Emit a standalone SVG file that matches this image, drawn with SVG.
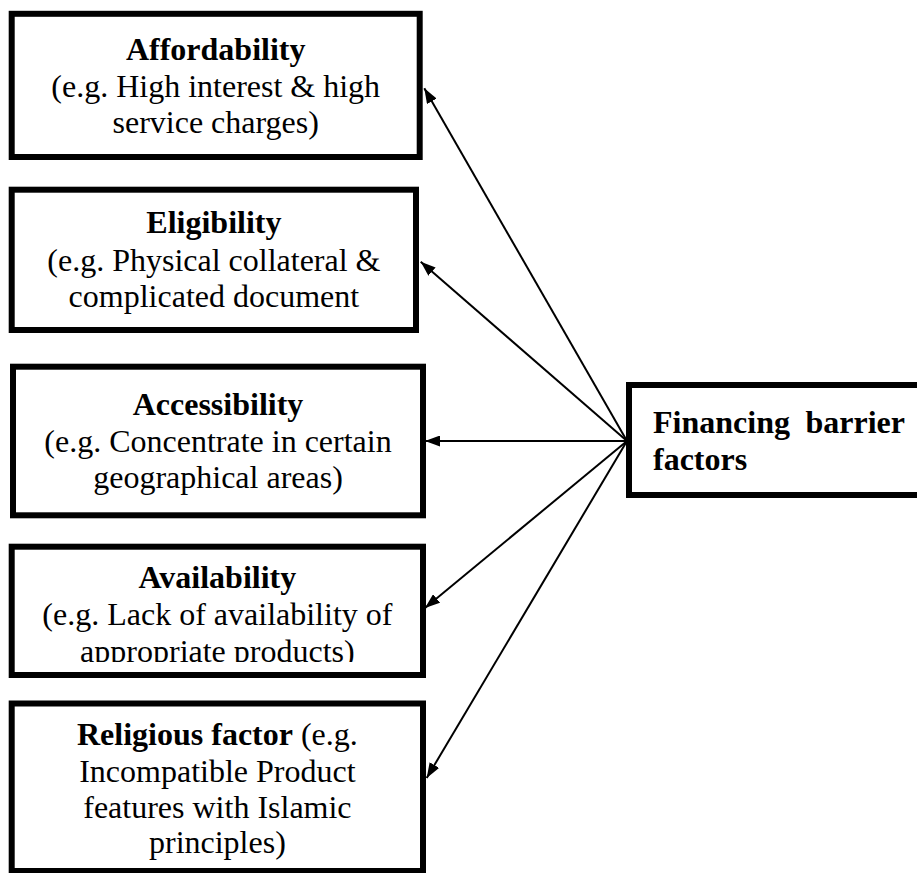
<svg xmlns="http://www.w3.org/2000/svg" width="917" height="873" viewBox="0 0 917 873">
<style>
.box{fill:#fff;stroke:#000;stroke-width:6}
.t{font-family:"Liberation Serif","Times New Roman",serif;font-size:32px;fill:#000;text-anchor:middle}
.b{font-weight:bold}
.f{font-family:"Liberation Serif","Times New Roman",serif;font-size:32px;font-weight:bold;fill:#000}
.c{stroke:#000;stroke-width:2;fill:none;marker-end:url(#ah)}
</style>
<defs>
<marker id="ah" viewBox="0 0 15 11" refX="15" refY="5.5" markerWidth="15" markerHeight="11" markerUnits="userSpaceOnUse" orient="auto">
<path d="M0,0 L15,5.5 L0,11 z" fill="#000"/>
</marker>
<clipPath id="clip4"><rect x="0" y="540" width="430" height="122"/></clipPath>
</defs>
<rect width="917" height="873" fill="#fff"/>
<g id="affordability">
<rect class="box" x="11.7" y="13.8" width="408" height="143.2"/>
<text class="t b" x="215.7" y="60">Affordability</text>
<text class="t" x="215.7" y="96.7">(e.g. High interest &amp; high</text>
<text class="t" x="215.7" y="133">service charges)</text>
</g>
<g id="eligibility">
<rect class="box" x="11.7" y="189.7" width="404.3" height="140.3"/>
<text class="t b" x="213.9" y="233">Eligibility</text>
<text class="t" x="213.9" y="270.5">(e.g. Physical collateral &amp;</text>
<text class="t" x="213.9" y="307">complicated document</text>
</g>
<g id="accessibility">
<rect class="box" x="13" y="366.7" width="410" height="148.6"/>
<text class="t b" x="218" y="415">Accessibility</text>
<text class="t" x="218" y="451.7">(e.g. Concentrate in certain</text>
<text class="t" x="218" y="488.3">geographical areas)</text>
</g>
<g id="availability">
<rect class="box" x="11.7" y="546.7" width="411.3" height="128.3"/>
<text class="t b" x="217.4" y="588.3">Availability</text>
<text class="t" x="217.4" y="625">(e.g. Lack of availability of</text>
<text class="t" x="217.4" y="661.7" clip-path="url(#clip4)">appropriate products)</text>
</g>
<g id="religious">
<rect class="box" x="11.7" y="703.5" width="411.3" height="167.5"/>
<text class="t" x="217.4" y="745"><tspan class="b">Religious factor</tspan> (e.g.</text>
<text class="t" x="217.4" y="781.7">Incompatible Product</text>
<text class="t" x="217.4" y="818.3">features with Islamic</text>
<text class="t" x="217.4" y="853.3">principles)</text>
</g>
<g id="financing">
<rect class="box" x="629" y="385" width="300" height="110"/>
<text class="f" x="653" y="433.3">Financing</text>
<text class="f" x="905" y="433.3" text-anchor="end">barrier</text>
<text class="f" x="653" y="470">factors</text>
</g>
<g id="connectors">
<line class="c" x1="627" y1="441" x2="424.3" y2="88.3"/>
<line class="c" x1="627" y1="441" x2="420.7" y2="261.7"/>
<line class="c" x1="627" y1="441" x2="425" y2="441"/>
<line class="c" x1="627" y1="441" x2="425" y2="608"/>
<line class="c" x1="627" y1="441" x2="426.7" y2="778"/>
</g>
</svg>
